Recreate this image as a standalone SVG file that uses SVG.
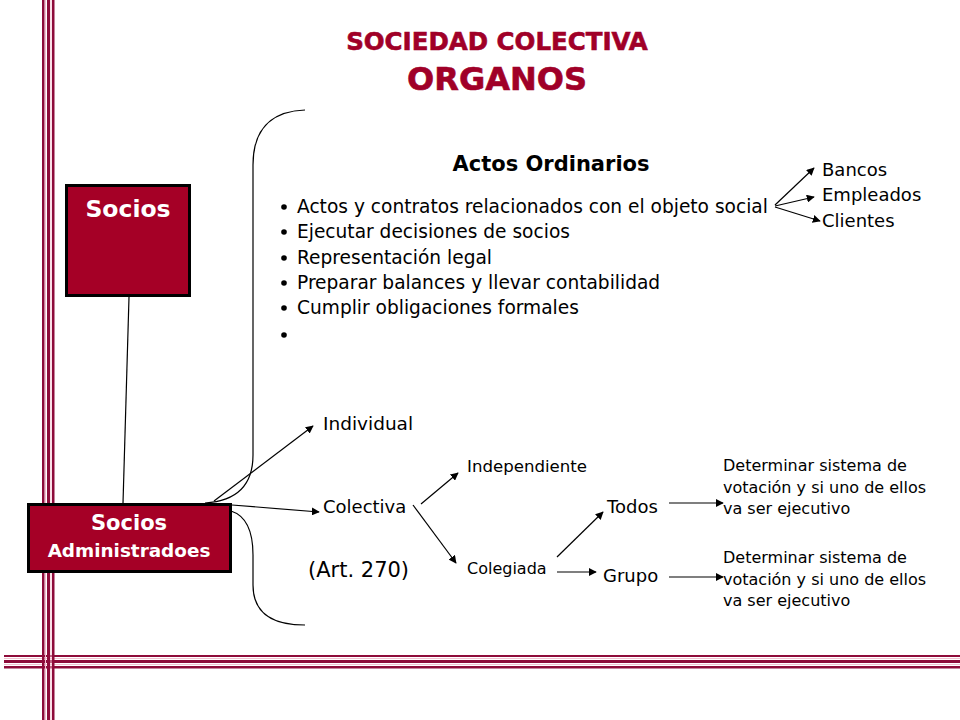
<svg xmlns="http://www.w3.org/2000/svg" width="960" height="720" viewBox="0 0 960 720">
<defs>
<marker id="ah" viewBox="0 0 10 10" refX="9" refY="5" markerWidth="8" markerHeight="8" markerUnits="userSpaceOnUse" orient="auto">
<path d="M0,0 L10,5 L0,10 z" fill="#000"/>
</marker>
<style>
.dk{fill:#8e0b3a}
.pk{fill:#f3bfd0}
.t{font-family:"DejaVu Sans",Verdana,sans-serif;fill:#000}
.tb{font-family:"DejaVu Sans",Verdana,sans-serif;font-weight:bold}
.title{font-family:"DejaVu Sans",Verdana,sans-serif;font-weight:bold;fill:#a00028;stroke:#a00028;stroke-width:0.6;text-anchor:middle}
.box{fill:#a50026;stroke:#000;stroke-width:3}
.wt{font-family:"DejaVu Sans",Verdana,sans-serif;font-weight:bold;fill:#fff;text-anchor:middle}
.ln{stroke:#000;stroke-width:1.2;fill:none}
.arr{stroke:#000;stroke-width:1.2;fill:none;marker-end:url(#ah)}
</style>
</defs>
<rect width="960" height="720" fill="#fff"/>
<g id="stripes-h">
<rect class="dk" x="4" y="655" width="956" height="2"/>
<rect class="pk" x="4" y="658" width="956" height="1"/>
<rect class="dk" x="4" y="660" width="956" height="3"/>
<rect class="pk" x="4" y="664" width="956" height="1"/>
<rect class="dk" x="4" y="666" width="956" height="2.5"/>
</g>
<g id="stripes-v">
<rect class="dk" x="42" y="0" width="2.5" height="720"/>
<rect class="pk" x="45" y="0" width="1" height="720"/>
<rect class="dk" x="47" y="0" width="3" height="720"/>
<rect class="pk" x="50.5" y="0" width="1" height="720"/>
<rect class="dk" x="52" y="0" width="2.5" height="720"/>
</g>
<g id="title">
<text class="title" x="497" y="50" font-size="24.5">SOCIEDAD COLECTIVA</text>
<text class="title" x="497" y="90" font-size="32">ORGANOS</text>
</g>
<g id="connectors">
<line class="ln" x1="129" y1="297" x2="123" y2="503"/>
<path class="ln" d="M305,110 Q253,112 253,165 L253,455 Q253,500 205,503"/>
<path class="ln" d="M231,511 Q253,518 253,555 L253,585 Q253,625 305,625"/>
<line class="arr" x1="214" y1="501" x2="313" y2="426"/>
<line class="arr" x1="232" y1="505" x2="319" y2="512"/>
<line class="arr" x1="775" y1="205" x2="814" y2="168"/>
<line class="arr" x1="775" y1="206" x2="814" y2="197"/>
<line class="arr" x1="775" y1="207" x2="820" y2="221"/>
<line class="arr" x1="421" y1="504" x2="458" y2="473"/>
<line class="arr" x1="413" y1="505" x2="456" y2="563"/>
<line class="arr" x1="557" y1="557" x2="603" y2="512"/>
<line class="arr" x1="557" y1="572" x2="596" y2="572"/>
<line class="arr" x1="669" y1="503" x2="723" y2="503"/>
<line class="arr" x1="669" y1="577" x2="723" y2="577"/>
</g>
<g id="socios">
<rect class="box" x="66.5" y="185.5" width="123" height="110"/>
<text class="wt" x="128" y="217" font-size="23.5">Socios</text>
</g>
<g id="socios-administradoes">
<rect class="box" x="28.5" y="504.5" width="202" height="67"/>
<text class="wt" x="129" y="530" font-size="21">Socios</text>
<text class="wt" x="129" y="557" font-size="18.4">Administradoes</text>
</g>
<g id="actos-ordinarios">
<text class="tb" x="551" y="171" font-size="21" text-anchor="middle">Actos Ordinarios</text>
<g fill="#000">
<circle cx="284" cy="207" r="2.8"/>
<circle cx="284" cy="232" r="2.8"/>
<circle cx="284" cy="258" r="2.8"/>
<circle cx="284" cy="283" r="2.8"/>
<circle cx="284" cy="308" r="2.8"/>
<circle cx="284" cy="335" r="2.8"/>
</g>
<text class="t" x="297" y="213" font-size="18.6">Actos y contratos relacionados con el objeto social</text>
<text class="t" x="297" y="238" font-size="18.6">Ejecutar decisiones de socios</text>
<text class="t" x="297" y="264" font-size="18.6">Representación legal</text>
<text class="t" x="297" y="289" font-size="18.6">Preparar balances y llevar contabilidad</text>
<text class="t" x="297" y="314" font-size="18.6">Cumplir obligaciones formales</text>
</g>
<g id="bancos"><text class="t" x="822" y="176" font-size="18">Bancos</text></g>
<g id="empleados"><text class="t" x="822" y="201" font-size="18">Empleados</text></g>
<g id="clientes"><text class="t" x="822" y="227" font-size="18">Clientes</text></g>
<g id="individual"><text class="t" x="323" y="430" font-size="18.5">Individual</text></g>
<g id="colectiva"><text class="t" x="323" y="513" font-size="18">Colectiva</text></g>
<g id="art270"><text class="t" x="308" y="577" font-size="21">(Art. 270)</text></g>
<g id="independiente"><text class="t" x="467" y="472" font-size="16.6">Independiente</text></g>
<g id="colegiada"><text class="t" x="467" y="574" font-size="16">Colegiada</text></g>
<g id="todos"><text class="t" x="607" y="513" font-size="18">Todos</text></g>
<g id="grupo"><text class="t" x="603" y="582" font-size="18">Grupo</text></g>
<g id="determinar-1">
<text class="t" x="723" y="471" font-size="16">Determinar sistema de</text>
<text class="t" x="723" y="493" font-size="16">votación y si uno de ellos</text>
<text class="t" x="723" y="514" font-size="16">va ser ejecutivo</text>
</g>
<g id="determinar-2">
<text class="t" x="723" y="563" font-size="16">Determinar sistema de</text>
<text class="t" x="723" y="585" font-size="16">votación y si uno de ellos</text>
<text class="t" x="723" y="606" font-size="16">va ser ejecutivo</text>
</g>
</svg>
